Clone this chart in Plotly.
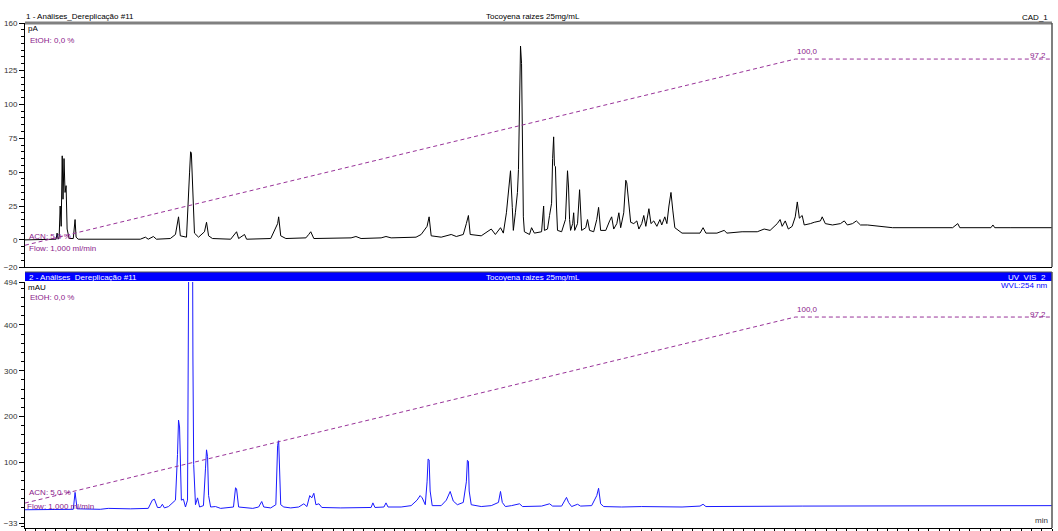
import plotly.graph_objects as go

# ---------------- data ----------------
cad_time = [0.00, 0.98, 1.21, 1.25, 1.29, 1.33, 1.37, 1.41, 1.45, 1.48, 1.52, 1.56, 1.60, 1.64, 1.72, 1.88, 1.95, 1.99, 2.07,
            4.49, 4.69, 4.80, 5.00, 5.12, 5.66, 5.86, 5.98, 6.05, 6.29, 6.41, 6.45, 6.48, 6.52, 6.60, 6.76, 6.99, 7.07, 7.15, 7.30,
            8.01, 8.24, 8.32, 8.55, 8.63, 9.57, 9.84, 9.88, 9.96, 10.16, 10.94, 11.05, 11.13, 11.25, 12.70, 12.89, 13.09,
            13.87, 14.06, 14.26, 15.23, 15.43, 15.66, 15.74, 15.82, 16.21, 16.60, 16.80, 17.07, 17.19, 17.27, 17.34, 17.77,
            18.16, 18.32, 18.52, 18.63, 18.75, 18.83, 18.91, 18.98, 19.02, 19.10, 19.18, 19.22, 19.26, 19.30, 19.34, 19.38,
            19.41, 19.45, 19.65, 19.73, 19.84, 20.12, 20.20, 20.23, 20.35, 20.43, 20.51, 20.55, 20.59, 20.62, 20.66, 20.70,
            20.74, 20.90, 21.05, 21.13, 21.17, 21.21, 21.25, 21.33, 21.37, 21.41, 21.52, 21.60, 21.64, 21.68, 21.84, 21.91,
            21.99, 22.15, 22.27, 22.34, 22.42, 22.62, 22.77, 22.85, 22.93, 23.05, 23.13, 23.20, 23.32, 23.40, 23.44, 23.52,
            23.59, 23.71, 23.83, 23.91, 24.02, 24.10, 24.18, 24.30, 24.38, 24.49, 24.61, 24.73, 24.80, 24.92, 25.00, 25.08,
            25.16, 25.23, 25.31, 25.59, 25.98, 26.29, 26.41, 26.52, 26.95, 27.23, 27.34, 27.93, 28.52, 28.79, 29.02, 29.30,
            29.41, 29.49, 29.61, 29.73, 29.88, 30.00, 30.08, 30.16, 30.27, 30.35, 30.59, 30.74, 30.98, 31.05, 31.17, 31.45,
            31.76, 31.91, 32.03, 32.23, 32.38, 32.54, 32.81, 33.20, 33.79, 36.13, 36.33, 36.41, 37.62, 37.70, 37.77, 38.40,
            40.00]
cad_pA = [0, 0, 0.5, 5, 0.5, 2, 25, 10, 62, 30, 60, 35, 40, 8, 1, 1, 15, 2, 0.5,
          0.5, 2, 0.5, 2.5, 0.5, 1, 4, 17, 3, 2, 50, 65, 64, 40, 5, 2, 6, 13, 3, 1,
          0.5, 6, 1, 4, 0.5, 1, 12, 17, 3, 1, 1.5, 4, 6, 1, 1.5, 2.5, 1,
          1.5, 2.5, 1.5, 2, 4, 10, 17, 3, 2, 4, 2.5, 4, 12, 18, 4, 3,
          8, 4, 9, 5, 20, 35, 51, 24, 7, 20, 35, 52, 100, 143, 130, 66,
          17, 6, 4, 9, 5, 6, 25, 7, 8, 18, 27, 60, 76, 55, 54, 25,
          7, 6, 15, 51, 39, 15, 7, 12, 20, 7, 12, 37, 24, 7, 9, 15,
          7, 6, 15, 24, 7, 7, 14, 17, 8, 12, 20, 9, 20, 44, 42, 28,
          13, 12, 14, 8, 12, 18, 10, 23, 12, 14, 10, 15, 11, 17, 12, 25,
          35, 22, 9, 5, 5, 5, 9, 5, 5, 7, 5, 6, 6, 8, 7, 12,
          15, 10, 14, 8, 10, 17, 28, 16, 18, 11, 12, 13, 14, 17, 12, 11,
          12, 14, 11, 12, 14, 11, 11, 10, 9, 9, 12, 9, 9, 11, 9, 9,
          9]

uv_time = [0.00, 1.37, 1.88, 1.95, 2.03, 2.93, 3.24, 4.10, 4.80, 4.96, 5.04, 5.16, 5.27, 5.35, 5.43, 5.59, 5.74, 5.86,
           5.94, 5.98, 6.02, 6.05, 6.09, 6.17, 6.25, 6.33, 6.39, 6.45, 6.52, 6.54, 6.57, 6.64, 6.72, 6.80, 6.95, 7.03,
           7.07, 7.11, 7.15, 7.23, 7.42, 7.62, 7.85, 8.12, 8.20, 8.24, 8.32, 8.59, 8.87, 9.10, 9.22, 9.30, 9.57, 9.77,
           9.84, 9.88, 9.92, 9.96, 10.08, 10.35, 10.66, 10.86, 10.98, 11.09, 11.17, 11.25, 11.33, 11.45, 11.56, 12.30,
           13.48, 13.55, 13.63, 13.98, 14.06, 14.14, 14.65, 15.04, 15.27, 15.39, 15.47, 15.59, 15.66, 15.70, 15.74,
           15.78, 15.86, 16.21, 16.41, 16.56, 16.68, 16.84, 17.07, 17.19, 17.23, 17.27, 17.30, 17.38, 17.77, 18.16,
           18.44, 18.52, 18.59, 18.71, 18.95, 19.26, 19.38, 19.73, 20.12, 20.43, 20.55, 20.90, 21.09, 21.17, 21.29,
           21.52, 21.64, 22.07, 22.27, 22.34, 22.42, 22.54, 23.24, 24.02, 25.59, 26.29, 26.41, 26.52, 28.83, 30.27,
           40.00]
uv_mAU = [-4, -4, -3, 34, -2, -3, -1, -2, -1, 17, 19, 1, 1, 8, 0, 3, 12, 17,
          117, 192, 177, 87, 17, 19, 2, 17, 700, 1000, 700, 330, 95, 7, 22, 2, 5, 87,
          127, 112, 27, 2, 3, -1, 1, 2, 44, 42, 2, 0, -1, 2, 14, 2, 0, 7,
          137, 147, 57, 7, 2, 0, 2, 9, 3, 27, 22, 32, 7, 9, 1, 0,
          1, 11, 1, 2, 11, 2, 2, 5, 17, 27, 22, 7, 57, 107, 105,
          37, 5, 5, 17, 36, 15, 7, 12, 57, 104, 102, 37, 7, 3, 5,
          12, 36, 12, 3, 5, 9, 3, 3, 4, 9, 4, 4, 23, 12, 3,
          8, 4, 5, 27, 43, 9, 3, 2, 3, 2, 4, 8, 3, 3, 4,
          5]

grad_time = [0, 30, 40]
grad_acn = [5, 100, 100]

cad_ticks = [-20, 0, 25, 50, 75, 100, 125, 160]
uv_ticks = [-33, 100, 200, 300, 400, 494]

# ---------------- styling ----------------
W, H = 1058, 531
L, R, T, B = 25, 6, 23, 3
PW, PH = W - L - R, H - T - B
FONT = "Liberation Sans, Arial, sans-serif"
PURPLE = "#993399"
PTXT = "#8b1a8b"


def px(x, y):
    return (x - L) / PW, (H - B - y) / PH


top_dom = [px(0, 267)[1], 1.0]
bot_dom = [0.0, px(0, 282)[1]]

fig = go.Figure()
fig.add_trace(go.Scatter(x=cad_time, y=cad_pA, xaxis="x2", yaxis="y2", mode="lines",
                         line=dict(color="black", width=1), hoverinfo="skip"))
fig.add_trace(go.Scatter(x=grad_time, y=grad_acn, xaxis="x2", yaxis="y3", mode="lines",
                         line=dict(color=PURPLE, width=1, dash="4px,3px"), hoverinfo="skip"))
fig.add_trace(go.Scatter(x=uv_time, y=uv_mAU, xaxis="x", yaxis="y", mode="lines",
                         line=dict(color="#1a1aff", width=1), hoverinfo="skip"))
fig.add_trace(go.Scatter(x=grad_time, y=grad_acn, xaxis="x", yaxis="y4", mode="lines",
                         line=dict(color=PURPLE, width=1, dash="4px,3px"), hoverinfo="skip"))

tickfont = dict(family=FONT, size=8, color="#333333")
fig.update_layout(
    width=W, height=H, margin=dict(l=L, r=R, t=T, b=B),
    paper_bgcolor="white", plot_bgcolor="white", showlegend=False,
    xaxis=dict(domain=[0, 1], range=[0, 40], anchor="y", showline=True, linecolor="black", linewidth=1,
               ticks="outside", ticklen=6, tickcolor="black", tick0=0, dtick=2, showticklabels=False,
               showgrid=False, zeroline=False, automargin=False,
               minor=dict(ticks="outside", ticklen=3, tickcolor="black", tick0=0, dtick=0.4, showgrid=False)),
    xaxis2=dict(domain=[0, 1], range=[0, 40], anchor="y2", showline=True, linecolor="black", linewidth=1,
                ticks="", showticklabels=False, showgrid=False, zeroline=False, automargin=False),
    yaxis=dict(domain=bot_dom, range=[-43.9, 494], anchor="x", tickmode="array", tickvals=uv_ticks,
               ticks="outside", ticklen=5, tickcolor="black", showline=True, linecolor="black", linewidth=1,
               showgrid=False, zeroline=False, tickfont=tickfont, automargin=False,
               minor=dict(ticks="outside", ticklen=3, tickcolor="black", tick0=0, dtick=20, showgrid=False)),
    yaxis2=dict(domain=top_dom, range=[-20, 160], anchor="x2", tickmode="array", tickvals=cad_ticks,
                ticks="outside", ticklen=5, tickcolor="black", showline=True, linecolor="black", linewidth=1,
                showgrid=False, zeroline=False, tickfont=tickfont, automargin=False,
                minor=dict(ticks="outside", ticklen=3, tickcolor="black", tick0=0, dtick=5, showgrid=False)),
    yaxis3=dict(overlaying="y2", range=[-6.1, 118.4], visible=False),
    yaxis4=dict(overlaying="y", range=[-7.75, 117.9], visible=False),
)

# frame shapes
shapes = []
shapes.append(dict(type="line", xref="paper", yref="paper", x0=0, x1=1, y0=1, y1=1,
                   line=dict(color="#808080", width=3)))
shapes.append(dict(type="line", xref="paper", yref="paper", x0=1, x1=1, y0=top_dom[0], y1=1,
                   line=dict(color="#555555", width=1.5)))
bar_lo, bar_hi = px(0, 281)[1], px(0, 272)[1]
shapes.append(dict(type="rect", xref="paper", yref="paper", x0=0, x1=1, y0=bar_lo, y1=bar_hi,
                   fillcolor="#0000ff", line=dict(width=0)))
shapes.append(dict(type="line", xref="paper", yref="paper", x0=0, x1=1, y0=bar_hi, y1=bar_hi,
                   line=dict(color="#555555", width=1)))
shapes.append(dict(type="line", xref="paper", yref="paper", x0=1, x1=1, y0=0, y1=bar_hi,
                   line=dict(color="#555555", width=1.5)))
fig.update_layout(shapes=shapes)


def ann(text, x, y, color="black", xanchor="left", size=8):
    ax, ay = px(x, y)
    fig.add_annotation(text=text, x=ax, y=ay, xref="paper", yref="paper", showarrow=False,
                       xanchor=xanchor, yanchor="middle", font=dict(family=FONT, size=size, color=color))


# top panel texts
ann("1 - Análises_Dereplicação #11", 24, 17)
ann("Tocoyena raizes 25mg/mL", 533, 17, xanchor="center")
ann("CAD_1", 1050, 18, xanchor="right")
ann("pA", 26, 28)
ann("EtOH: 0,0 %", 28, 40, color=PTXT)
ann("ACN: 5,0 %", 27, 236, color=PTXT)
ann("Flow: 1,000 ml/min", 27, 249, color=PTXT)
ann("100,0", 795, 51, color=PTXT)
ann("97,2", 1048, 56, color=PTXT, xanchor="right")

# bottom panel texts
ann("2 - Análises_Dereplicação #11", 27, 277, color="white")
ann("Tocoyena raizes 25mg/mL", 533, 277, color="white", xanchor="center")
ann("UV_VIS_2", 1048, 277, color="white", xanchor="right")
ann("mAU", 26, 287)
ann("WVL:254 nm", 1050, 285, color="#0000ff", xanchor="right")
ann("EtOH: 0,0 %", 28, 297, color=PTXT)
ann("100,0", 795, 309, color=PTXT)
ann("97,2", 1048, 314, color=PTXT, xanchor="right")
ann("ACN: 5,0 %", 27, 493, color=PTXT)
ann("Flow: 1,000 ml/min", 25, 506, color=PTXT)
ann("min", 1050, 520, color="#333333", xanchor="right")

fig.write_html("out.html", config={"displayModeBar": False},
               post_script="document.body.style.margin='0';document.body.style.overflow='hidden';")
